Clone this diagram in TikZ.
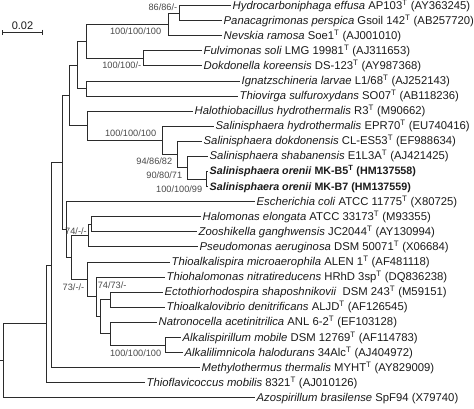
\documentclass[tikz,border=0pt]{standalone}
\usepackage{fontspec}
\setmainfont{Liberation Sans}
\usepackage{tikz}
\usetikzlibrary{arrows.meta,positioning}
\definecolor{Branch}{HTML}{2B2B2B}
\definecolor{Support}{HTML}{4A4A4A}
\definecolor{Taxon}{HTML}{1A1A1A}
\newcommand{\typeT}{\textsuperscript{T}}
\tikzset{
  branch/.style={
    draw=Branch,
    line width=0.9pt
  },
  taxon/.style={
    anchor=west,
    inner xsep=1.5pt,
    inner ysep=0pt,
    text height=7pt,
    text depth=0pt,
    font=\fontsize{11.3}{13}\selectfont,
    text=Taxon
  },
  boldtaxon/.style={
    taxon,
    font=\fontsize{10.7}{13}\selectfont\bfseries
  },
  support/.style={
    inner sep=0.6pt,
    text height=6.8pt,
    text depth=0.8pt,
    font=\fontsize{9.2}{11}\selectfont,
    text=Support
  },
  scalebar/.style={
    {Bar[width=5pt]}-{Bar[width=5pt]},
    draw=Branch,
    line width=0.9pt
  }
}

\begin{document}
\begin{tikzpicture}[x=1pt,y=-1pt]
\useasboundingbox (0,0) rectangle (474,408);
\node[taxon] (hydro) at (231,5.8) {\textit{Hydrocarboniphaga effusa} AP103\typeT{} (AY363245)};
\node[taxon] (panac) at (222,20.8) {\textit{Panacagrimonas perspica} Gsoil 142\typeT{} (AB257720)};
\node[taxon] (nevskia) at (222,35.8) {\textit{Nevskia ramosa} Soe1\typeT{} (AJ001010)};
\node[taxon] (fulvi) at (202,50.9) {\textit{Fulvimonas soli} LMG 19981\typeT{} (AJ311653)};
\node[taxon] (dokdo) at (202,65.9) {\textit{Dokdonella koreensis} DS-123\typeT{} (AY987368)};
\node[taxon] (ignatz) at (240,81.0) {\textit{Ignatzschineria larvae} L1/68\typeT{} (AJ252143)};
\node[taxon] (thiovirga) at (238,96.0) {\textit{Thiovirga sulfuroxydans} SO07\typeT{} (AB118236)};
\node[taxon] (halothio) at (193,111.0) {\textit{Halothiobacillus hydrothermalis} R3\typeT{} (M90662)};
\node[taxon] (salhydro) at (214,126.1) {\textit{Salinisphaera hydrothermalis} EPR70\typeT{} (EU740416)};
\node[taxon] (saldokdo) at (202,141.2) {\textit{Salinisphaera dokdonensis} CL-ES53\typeT{} (EF988634)};
\node[taxon] (salshab) at (208,156.3) {\textit{Salinisphaera shabanensis} E1L3A\typeT{} (AJ421425)};
\node[boldtaxon] (mkbfive) at (208,171.4) {\textit{Salinisphaera orenii} MK-B5\typeT{} (HM137558)};
\node[boldtaxon] (mkbseven) at (208,186.5) {\textit{Salinisphaera orenii} MK-B7 (HM137559)};
\node[taxon] (ecoli) at (255,201.6) {\textit{Escherichia coli} ATCC 11775\typeT{} (X80725)};
\node[taxon] (halomonas) at (201,216.7) {\textit{Halomonas elongata} ATCC 33173\typeT{} (M93355)};
\node[taxon] (zoosh) at (197,231.8) {\textit{Zooshikella ganghwensis} JC2044\typeT{} (AY130994)};
\node[taxon] (pseudo) at (198,246.9) {\textit{Pseudomonas aeruginosa} DSM 50071\typeT{} (X06684)};
\node[taxon] (thioalkspira) at (170,262.0) {\textit{Thioalkalispira microaerophila} ALEN 1\typeT{} (AF481118)};
\node[taxon] (thiohalo) at (165,277.1) {\textit{Thiohalomonas nitratireducens} HRhD 3sp\typeT{} (DQ836238)};
\node[taxon] (ecto) at (163,292.2) {\textit{Ectothiorhodospira shaposhnikovii}\ \ DSM 243\typeT{} (M59151)};
\node[taxon] (thioalkvib) at (165,307.3) {\textit{Thioalkalovibrio denitrificans} ALJD\typeT{} (AF126545)};
\node[taxon] (natrono) at (157,322.4) {\textit{Natronocella acetinitrilica} ANL 6-2\typeT{} (EF103128)};
\node[taxon] (alkspir) at (181,337.5) {\textit{Alkalispirillum mobile} DSM 12769\typeT{} (AF114783)};
\node[taxon] (alklimn) at (183,352.6) {\textit{Alkalilimnicola halodurans} 34Alc\typeT{} (AJ404972)};
\node[taxon] (methylo) at (200,367.7) {\textit{Methylothermus thermalis} MYHT\typeT{} (AY829009)};
\node[taxon] (thioflav) at (145,382.8) {\textit{Thioflavicoccus mobilis} 8321\typeT{} (AJ010126)};
\node[taxon] (azosp) at (255,397.9) {\textit{Azospirillum brasilense} SpF94 (X79740)};
\coordinate (nA) at (179,13.3);
\coordinate (nB) at (168,24.55);
\coordinate (nC) at (143,58.4);
\coordinate (nD) at (86,41.5);
\coordinate (nE) at (86,88.5);
\coordinate (nF) at (77,65.0);
\coordinate (nM) at (206,178.95);
\coordinate (nL) at (187,167.6);
\coordinate (nK) at (177,154.4);
\coordinate (nJ) at (162,140.25);
\coordinate (nI) at (87,125.6);
\coordinate (nG) at (69,95.3);
\coordinate (nTa) at (91,224.25);
\coordinate (nT) at (88,235.6);
\coordinate (nNa) at (110,299.75);
\coordinate (nNc) at (165,345.05);
\coordinate (nNb) at (110,333.7);
\coordinate (nN3) at (100,316.7);
\coordinate (nN4) at (96,296.9);
\coordinate (nN5) at (87,279.45);
\coordinate (nR) at (71,257.5);
\coordinate (nQ) at (66,229.55);
\coordinate (nH) at (62,162.4);
\coordinate (nP) at (51,265.05);
\coordinate (nS) at (46,323.9);
\coordinate (root) at (3,360.9);
\coordinate (stub) at (0,360.9);
\coordinate (bar0) at (2,32);
\coordinate (bar1) at (43,32);
\draw[scalebar] (bar0) -- (bar1) node[midway, above=1.5pt, inner sep=0.5pt, font=\fontsize{11}{13}\selectfont, text=Taxon] (scalelabel) {0.02};
\draw[branch] (stub) -- (root);
\draw[branch] (root) |- (nS);
\draw[branch] (root) |- (azosp.west);
\draw[branch] (nS) |- (nP);
\draw[branch] (nS) |- (thioflav.west);
\draw[branch] (nP) |- (nH);
\draw[branch] (nP) |- (methylo.west);
\draw[branch] (nH) |- (nG);
\draw[branch] (nH) |- (nQ);
\draw[branch] (nG) |- (nF);
\draw[branch] (nG) |- (nI);
\draw[branch] (nF) |- (nD);
\draw[branch] (nF) |- (nE);
\draw[branch] (nD) |- (nB);
\draw[branch] (nD) |- (nC);
\draw[branch] (nB) |- (nA);
\draw[branch] (nB) |- (nevskia.west);
\draw[branch] (nA) |- (hydro.west);
\draw[branch] (nA) |- (panac.west);
\draw[branch] (nC) |- (fulvi.west);
\draw[branch] (nC) |- (dokdo.west);
\draw[branch] (nE) |- (ignatz.west);
\draw[branch] (nE) |- (thiovirga.west);
\draw[branch] (nI) |- (halothio.west);
\draw[branch] (nI) |- (nJ);
\draw[branch] (nJ) |- (salhydro.west);
\draw[branch] (nJ) |- (nK);
\draw[branch] (nK) |- (saldokdo.west);
\draw[branch] (nK) |- (nL);
\draw[branch] (nL) |- (salshab.west);
\draw[branch] (nL) |- (nM);
\draw[branch] (nM) |- (mkbfive.west);
\draw[branch] (nM) |- (mkbseven.west);
\draw[branch] (nQ) |- (ecoli.west);
\draw[branch] (nQ) |- (nR);
\draw[branch] (nR) |- (nT);
\draw[branch] (nR) |- (nN5);
\draw[branch] (nT) |- (nTa);
\draw[branch] (nT) |- (pseudo.west);
\draw[branch] (nTa) |- (halomonas.west);
\draw[branch] (nTa) |- (zoosh.west);
\draw[branch] (nN5) |- (thioalkspira.west);
\draw[branch] (nN5) |- (nN4);
\draw[branch] (nN4) |- (thiohalo.west);
\draw[branch] (nN4) |- (nN3);
\draw[branch] (nN3) |- (nNa);
\draw[branch] (nN3) |- (nNb);
\draw[branch] (nNa) |- (ecto.west);
\draw[branch] (nNa) |- (thioalkvib.west);
\draw[branch] (nNb) |- (natrono.west);
\draw[branch] (nNb) |- (nNc);
\draw[branch] (nNc) |- (alkspir.west);
\draw[branch] (nNc) |- (alklimn.west);
\node[support, above left=1.5pt and 1pt of nA] (bsA) {86/86/-};
\node[support, below left=2.4pt and 6pt of nB] (bsB) {100/100/100};
\node[support, below left=2.5pt and 1pt of nC] (bsC) {100/100/-};
\node[support, above left=2.5pt and 5pt of nJ] (bsJ) {100/100/100};
\node[support, below left=2.2pt and 4pt of nK] (bsK) {94/86/82};
\node[support, below left=3pt and 4pt of nL] (bsL) {90/80/71};
\node[support, below left=5.6pt and 3pt of nM] (bsM) {100/100/99};
\node[support, above left=0pt and 0.5pt of nT] (bsT) {74/-/-};
\node[support, below left=3.2pt and 2pt of nN5] (bsN5) {73/-/-};
\node[support, above right=6.5pt and 1pt of nN4] (bsN4) {74/73/-};
\node[support, below left=3.5pt and 3pt of nNc] (bsNc) {100/100/100};
\end{tikzpicture}
\end{document}
